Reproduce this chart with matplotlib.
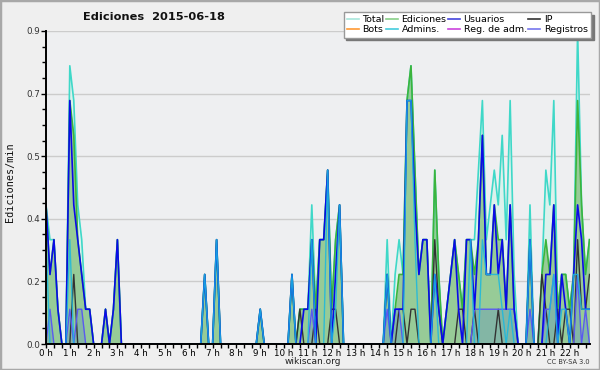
import numpy as np
import matplotlib
matplotlib.use("Agg")
import matplotlib.pyplot as plt
from matplotlib.lines import Line2D
from matplotlib.ticker import FixedLocator, MultipleLocator
from matplotlib.patches import Rectangle

# ---------------- data (edits per minute, 10-minute bins from 00:00) ----------------
title = "Ediciones  2015-06-18"
ylabel = "Ediciones/min"
hour_labels = [f"{h} h" for h in range(23)]
ytick_values = [0.0, 0.18, 0.36, 0.54, 0.72, 0.9]
ytick_labels = ["0.0", "0.2", "0.4", "0.5", "0.7", "0.9"]

total = [
    .4, .3, .3, .1, 0, 0,      .8, .7, .4, .3, .1, .1,    0, 0, 0, .1, 0, .1,      .3, 0, 0, 0, 0, 0,
    0, 0, 0, 0, 0, 0,          0, 0, 0, 0, 0, 0,          0, 0, 0, 0, .2, 0,       0, .3, 0, 0, 0, 0,
    0, 0, 0, 0, 0, 0,          .1, 0, 0, 0, 0, 0,         0, 0, .2, 0, .1, .1,     .1, .4, .1, .3, .3, .5,
    .1, .3, .4, 0, 0, 0,       0, 0, 0, 0, 0, 0,          0, 0, .3, 0, .2, .3,     .2, .7, .8, .5, .2, .3,
    .3, 0, .5, .2, 0, .1,      .2, .3, .2, .1, .3, .3,    .3, .5, .7, .3, .4, .5,  .4, .6, .3, .7, .2, 0,
    0, 0, .4, 0, 0, .2,        .5, .4, .7, .1, .2, .2,    .1, .2, .9, .4, .2, .3,
]
ediciones = [
    .4, .2, .3, .1, 0, 0,      .7, .6, .3, .2, .1, .1,    0, 0, 0, .1, 0, .1,      .3, 0, 0, 0, 0, 0,
    0, 0, 0, 0, 0, 0,          0, 0, 0, 0, 0, 0,          0, 0, 0, 0, .2, 0,       0, .3, 0, 0, 0, 0,
    0, 0, 0, 0, 0, 0,          .1, 0, 0, 0, 0, 0,         0, 0, .2, 0, .1, .1,     .1, .3, .1, .3, .3, .5,
    .1, .3, .4, 0, 0, 0,       0, 0, 0, 0, 0, 0,          0, 0, .2, 0, .1, .2,     .2, .7, .8, .5, .2, .3,
    .3, 0, .5, .2, 0, .1,      .2, .3, .2, .1, .3, .3,    .2, .3, .6, .2, .2, .4,  .3, .3, .1, .4, .1, 0,
    0, 0, .3, 0, 0, .2,        .3, .2, .4, .1, .2, .2,    .1, .2, .7, .4, .2, .3,
]
usuarios = [
    .4, .2, .3, .1, 0, 0,      .7, .4, .3, .2, .1, .1,    0, 0, 0, .1, 0, .1,      .3, 0, 0, 0, 0, 0,
    0, 0, 0, 0, 0, 0,          0, 0, 0, 0, 0, 0,          0, 0, 0, 0, .2, 0,       0, .3, 0, 0, 0, 0,
    0, 0, 0, 0, 0, 0,          .1, 0, 0, 0, 0, 0,         0, 0, .2, 0, 0, .1,      .1, .3, 0, .3, .3, .5,
    0, .2, .4, 0, 0, 0,        0, 0, 0, 0, 0, 0,          0, 0, .2, 0, .1, .1,     .1, .7, .7, .4, .2, .3,
    .3, 0, .2, .1, 0, .1,      .2, .3, .1, 0, .3, .3,     .1, .3, .6, .2, .2, .4,  .2, .3, .1, .4, .1, 0,
    0, 0, .3, 0, 0, 0,         .2, .2, .4, 0, .2, .1,     0, .2, .4, .3, .1, .1,
]
ip = [
    0, 0, 0, 0, 0, 0,          0, .2, 0, 0, 0, 0,         0, 0, 0, 0, 0, 0,        0, 0, 0, 0, 0, 0,
    0, 0, 0, 0, 0, 0,          0, 0, 0, 0, 0, 0,          0, 0, 0, 0, 0, 0,        0, 0, 0, 0, 0, 0,
    0, 0, 0, 0, 0, 0,          0, 0, 0, 0, 0, 0,          0, 0, 0, 0, .1, 0,       0, 0, .1, 0, 0, 0,
    .1, .1, 0, 0, 0, 0,        0, 0, 0, 0, 0, 0,          0, 0, 0, 0, 0, .1,       .1, 0, .1, .1, 0, 0,
    0, 0, .3, .1, 0, 0,        0, 0, .1, .1, 0, 0,        .1, 0, 0, 0, 0, 0,       .1, 0, 0, 0, 0, 0,
    0, 0, 0, 0, 0, .2,         .1, 0, 0, .1, 0, .1,       .1, 0, .3, .1, .1, .2,
]
admins = [
    .3, 0, 0, 0, 0, 0,         .3, 0, 0, 0, 0, 0,         0, 0, 0, 0, 0, 0,        0, 0, 0, 0, 0, 0,
    0, 0, 0, 0, 0, 0,          0, 0, 0, 0, 0, 0,          0, 0, 0, 0, .2, 0,       0, .3, 0, 0, 0, 0,
    0, 0, 0, 0, 0, 0,          .1, 0, 0, 0, 0, 0,         0, 0, .2, 0, 0, 0,       0, .3, 0, 0, 0, .5,
    0, .1, .4, 0, 0, 0,        0, 0, 0, 0, 0, 0,          0, 0, .2, 0, 0, 0,       0, .7, .7, .3, 0, 0,
    0, 0, .2, 0, 0, 0,         0, 0, 0, 0, 0, .3,         0, 0, .3, .2, .2, .2,    .2, .1, 0, .1, 0, 0,
    0, 0, .3, 0, 0, 0,         0, .1, .2, 0, .1, .1,      0, .2, .2, .1, .1, .1,
]
registros = [
    0, .1, 0, 0, 0, 0,         .1, 0, .1, .1, 0, 0,       0, 0, 0, 0, 0, 0,        0, 0, 0, 0, 0, 0,
    0, 0, 0, 0, 0, 0,          0, 0, 0, 0, 0, 0,          0, 0, 0, 0, 0, 0,        0, 0, 0, 0, 0, 0,
    0, 0, 0, 0, 0, 0,          0, 0, 0, 0, 0, 0,          0, 0, 0, 0, 0, 0,        0, .1, 0, 0, 0, 0,
    0, 0, 0, 0, 0, 0,          0, 0, 0, 0, 0, 0,          0, 0, .1, 0, .1, .1,     0, 0, 0, 0, 0, 0,
    0, 0, 0, 0, 0, 0,          0, 0, 0, 0, 0, 0,          .1, .1, .1, .1, .1, .1,  .1, .1, .1, .1, .1, 0,
    0, 0, .1, 0, 0, 0,         .1, .1, .2, 0, 0, 0,       0, 0, .2, 0, .1, 0,
]
bots = [0] * len(total)
reg_adm = [0] * len(total)

legend_labels = ["Total", "Bots", "Ediciones", "Admins.", "Usuarios", "Reg. de adm.", "IP", "Registros"]

# ---------------- figure ----------------
W, H = 600, 370
PT = 72 / 100  # points per pixel
fig = plt.figure(figsize=(W / 100, H / 100), dpi=100, facecolor="#efefef")
fig.patches.append(Rectangle((0, 0), 1, 1, transform=fig.transFigure, fill=False,
                             edgecolor="#a8a8a8", lw=2.5, zorder=10))

x0, x1, yb, yt = 46, 589.5, 344, 31
ax = fig.add_axes([x0 / W, (H - yb) / H, (x1 - x0) / W, (yb - yt) / H])
ax.set_facecolor("#eeeff1")

t = np.arange(len(total)) / 6.0

ax.fill_between(t, total, color="#dcf1ec", lw=0, zorder=1.0)
ax.fill_between(t, ediciones, color="#97cb97", lw=0, zorder=1.1)
ax.fill_between(t, registros, color="#4a78d0", alpha=0.25, lw=0, zorder=1.2)

lw = 1.2
ax.plot(t, total, color="#3fd8c8", lw=lw, zorder=2.0)
ax.plot(t, ediciones, color="#3cb43c", lw=lw, zorder=2.1)
ax.plot(t, bots, color="#ff9933", lw=lw, zorder=2.15)
ax.plot(t, reg_adm, color="#cc44dd", lw=lw, zorder=2.16)
ax.plot(t, ip, color="#333333", lw=1.0, zorder=2.2)
ax.plot(t, registros, color="#5a5af0", lw=1.0, zorder=2.3)
ax.plot(t, usuarios, color="#0a0ae8", lw=lw, zorder=2.4)
ax.plot(t, admins, color="#1ab8e0", lw=1.0, alpha=0.85, zorder=2.45)

ax.set_xlim(0, (len(total) - 1) / 6.0)
ax.set_ylim(0, 0.9)

for s in ("top", "right"):
    ax.spines[s].set_visible(False)
for s in ("left", "bottom"):
    ax.spines[s].set_color("black")
    ax.spines[s].set_linewidth(1.4)
    ax.spines[s].set_zorder(3)

ax.yaxis.set_major_locator(FixedLocator(ytick_values))
ax.set_yticklabels(ytick_labels)
ax.yaxis.set_minor_locator(MultipleLocator(0.045))
ax.xaxis.set_major_locator(FixedLocator(range(len(hour_labels))))
ax.set_xticklabels(hour_labels)
ax.xaxis.set_minor_locator(MultipleLocator(1 / 3))

ax.tick_params(axis="both", which="both", direction="out", width=1, colors="black")
ax.tick_params(axis="x", which="both", length=3.5 * PT, labelsize=6.3, pad=1.5 * PT)
ax.tick_params(axis="y", which="major", length=5 * PT, labelsize=6.3, pad=1 * PT,
               labelcolor="#333333")
ax.tick_params(axis="y", which="minor", length=4 * PT)

ax.yaxis.grid(True, which="major", color="#cccccc", lw=1)
ax.set_axisbelow(True)

fig.text(154 / W, 1 - 17 / H, title, ha="center", va="center",
         fontsize=8.2, fontweight="bold", color="#111111")
fig.text(10 / W, 1 - 182 / H, ylabel, rotation=90, ha="center", va="center",
         fontsize=7.3, family="DejaVu Sans Mono", color="#111111")
fig.text(313 / W, 1 - 362 / H, "wikiscan.org", ha="center", va="center",
         fontsize=6.5, color="#222222")
fig.text(590 / W, 1 - 362 / H, "CC BY-SA 3.0", ha="right", va="center",
         fontsize=4.8, color="#333333")

legend_colors = ["#a8e6dc", "#ff9933", "#88d088", "#44ccdd", "#4444dd", "#cc44dd", "#333333", "#7777ee"]
handles = [Line2D([0], [0], color=c, lw=1.2) for c in legend_colors]
leg = fig.legend(handles, legend_labels, ncol=4, loc="upper right",
                 bbox_to_anchor=(591 / W, 1 - 12 / H), fontsize=6.8,
                 frameon=True, fancybox=False, shadow={"color": "#777777", "alpha": 1.0},
                 edgecolor="#999999", framealpha=1.0, borderpad=0.35,
                 handlelength=1.25, handletextpad=0.4, columnspacing=0.15,
                 labelspacing=0.1, borderaxespad=0)
leg.get_frame().set_linewidth(1.0)

fig.savefig("out.png", dpi=100, facecolor=fig.get_facecolor())
